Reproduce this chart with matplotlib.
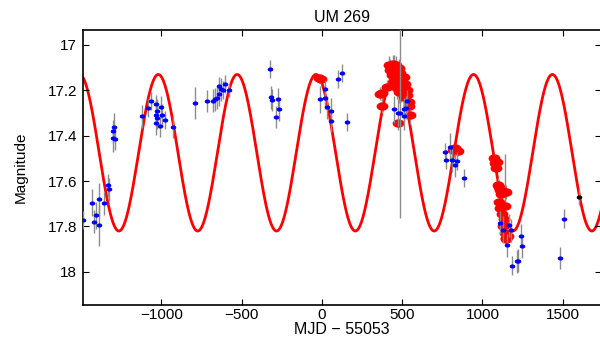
import numpy as np
import matplotlib
matplotlib.use("Agg")
import matplotlib.pyplot as plt
from matplotlib.path import Path

plt.rcParams['font.family'] = ['Liberation Sans', 'DejaVu Sans']

# ---- data ----
blue_x = [-1490, -1431, -1421, -1406, -1386, -1386, -1355, -1330, -1327, -1302, -1292, -1300, -1288,
          -1119, -1084, -1067, -1031, -1029, -1034, -1025, -1004, -998, -1031, -1006, -975, -929,
          -792, -713, -681, -667, -652, -644, -638, -629, -615, -606, -579,
          -325, -317, -309, -288, -275, -267,
          -13, 19, 19, 29, 58, 58, 102, 127, 154,
          448, 473, 485, 510, 533, 510, 525,
          766, 771, 796, 808, 827, 839, 885,
          1110, 1131, 1152, 1166, 1181, 1187, 1214, 1221, 1241, 1248,
          1485, 1508]
blue_mag = [17.771, 17.695, 17.779, 17.751, 17.680, 17.795, 17.698, 17.618, 17.636, 17.381, 17.361, 17.412, 17.415,
            17.315, 17.278, 17.246, 17.261, 17.290, 17.308, 17.320, 17.274, 17.308, 17.346, 17.355, 17.331, 17.361,
            17.255, 17.247, 17.246, 17.239, 17.234, 17.218, 17.180, 17.195, 17.199, 17.172, 17.200,
            17.105, 17.230, 17.242, 17.317, 17.239, 17.283,
            17.239, 17.193, 17.234, 17.275, 17.293, 17.333, 17.150, 17.125, 17.340,
            17.283, 17.299, 17.302, 17.283, 17.249, 17.314, 17.277,
            17.470, 17.505, 17.448, 17.509, 17.530, 17.512, 17.586,
            17.783, 17.814, 17.883, 17.795, 17.817, 17.972, 17.954, 17.950, 17.840, 17.888,
            17.939, 17.765]
blue_err = [0.04, 0.06, 0.05, 0.06, 0.07, 0.09, 0.05, 0.05, 0.05, 0.05, 0.06, 0.06, 0.05,
            0.05, 0.04, 0.04, 0.04, 0.05, 0.05, 0.05, 0.05, 0.05, 0.05, 0.05, 0.04, 0.05,
            0.07, 0.05, 0.05, 0.05, 0.05, 0.05, 0.04, 0.05, 0.04, 0.04, 0.03,
            0.04, 0.05, 0.05, 0.05, 0.05, 0.05,
            0.06, 0.04, 0.05, 0.05, 0.06, 0.05, 0.04, 0.04, 0.04,
            0.06, 0.06, 0.46, 0.05, 0.05, 0.06, 0.05,
            0.04, 0.04, 0.06, 0.05, 0.05, 0.04, 0.04,
            0.05, 0.06, 0.05, 0.05, 0.05, 0.04, 0.05, 0.05, 0.05, 0.05,
            0.05, 0.04]

red_x = [-15, -5,
         364, 373, 377, 406, 420, 427, 437, 440, 448, 448, 455, 460, 469, 470, 475, 479, 480,
         489, 495, 500, 510, 510, 520, 530, 531, 540, 541, 546,
         815, 832, 850,
         1075, 1078, 1083, 1088,
         1095, 1103, 1110, 1118, 1125, 1146, 1140,
         1105, 1112, 1125, 1135, 1140,
         1130, 1140, 1145, 1150, 1160]
red_mag = [17.147, 17.150,
           17.214, 17.268, 17.213, 17.184, 17.090, 17.111, 17.133, 17.085, 17.096, 17.162, 17.120, 17.090, 17.155, 17.190, 17.346, 17.206, 17.100,
           17.125, 17.200, 17.169, 17.140, 17.228, 17.170, 17.220, 17.199, 17.270, 17.251, 17.309,
           17.462, 17.456, 17.468,
           17.500, 17.520, 17.540, 17.515,
           17.615, 17.625, 17.640, 17.655, 17.650, 17.648, 17.650,
           17.690, 17.720, 17.745, 17.765, 17.710,
           17.800, 17.830, 17.850, 17.855, 17.840]
red_err = [0.02, 0.02,
           0.03, 0.03, 0.03, 0.03, 0.04, 0.05, 0.04, 0.04, 0.05, 0.04, 0.04, 0.04, 0.04, 0.05, 0.03, 0.05, 0.04,
           0.04, 0.05, 0.05, 0.04, 0.05, 0.04, 0.05, 0.04, 0.05, 0.05, 0.04,
           0.02, 0.02, 0.02,
           0.02, 0.02, 0.02, 0.02,
           0.03, 0.03, 0.03, 0.03, 0.03, 0.03, 0.17,
           0.03, 0.03, 0.03, 0.03, 0.03,
           0.03, 0.03, 0.03, 0.03, 0.03]

black_x = [1604]
black_mag = [17.670]
black_err = [0.037]

# sinusoidal model parameters
period = 491.0
t_peak = 945.0
mean_mag = 17.475
amplitude = 0.345

x_ticks = [-1000, -500, 0, 500, 1000, 1500]
y_ticks = [17, 17.2, 17.4, 17.6, 17.8, 18]
y_ticklabels = ['17', '17.2', '17.4', '17.6', '17.8', '18']

# ---- figure ----
fig = plt.figure(figsize=(6.0, 3.43), dpi=100)
left = 82.7 / 600
bottom = (343 - 305) / 343
ax = fig.add_axes([left, bottom, 1.002 - left, 275 / 343])

xlim = (-1490, 1740)
t = np.linspace(xlim[0], xlim[1], 2000)
model = mean_mag - amplitude * np.cos(2 * np.pi * (t - t_peak) / period)
ax.plot(t, model, color='red', lw=2.0, zorder=1)

th = np.linspace(0, 2 * np.pi, 40)
ell = Path(np.column_stack([1.5 * np.cos(th), np.sin(th)]), closed=True)

ecol = (0.55, 0.55, 0.55)
ax.errorbar(red_x, red_mag, yerr=red_err, fmt='none', ecolor=ecol, elinewidth=1.0, capsize=0, zorder=2)
ax.plot(red_x, red_mag, ls='none', marker=ell, ms=7.5, color='red', mec='red', zorder=3)
ax.errorbar(blue_x, blue_mag, yerr=blue_err, fmt='none', ecolor=ecol, elinewidth=1.0, capsize=0, zorder=4)
ax.plot(blue_x, blue_mag, ls='none', marker=ell, ms=3.0, color='blue', mec='blue', zorder=5)
ax.errorbar(black_x, black_mag, yerr=black_err, fmt='none', ecolor=ecol, elinewidth=1.0, capsize=0, zorder=4)
ax.plot(black_x, black_mag, ls='none', marker=ell, ms=3.0, color='black', mec='black', zorder=5)

ax.set_xlim(*xlim)
ax.set_ylim(18.146, 16.934)
ax.set_xticks(x_ticks)
ax.set_xticklabels(['\u22121000', '\u2212500', '0', '500', '1000', '1500'])
ax.set_yticks(y_ticks)
ax.set_yticklabels(y_ticklabels)
ax.tick_params(axis='both', direction='in', length=4, width=0.8, top=True, right=True, labelsize=11)
ax.tick_params(axis='x', pad=2)
ax.tick_params(axis='y', pad=4)
for s in ax.spines.values():
    s.set_linewidth(1.2)

ax.set_title('UM 269', fontsize=11.5, pad=6)
ax.set_xlabel('MJD \u2212 55053', fontsize=11.5, labelpad=0)
ax.set_ylabel('Magnitude', fontsize=11, labelpad=14)

fig.savefig('out.png', dpi=100)
